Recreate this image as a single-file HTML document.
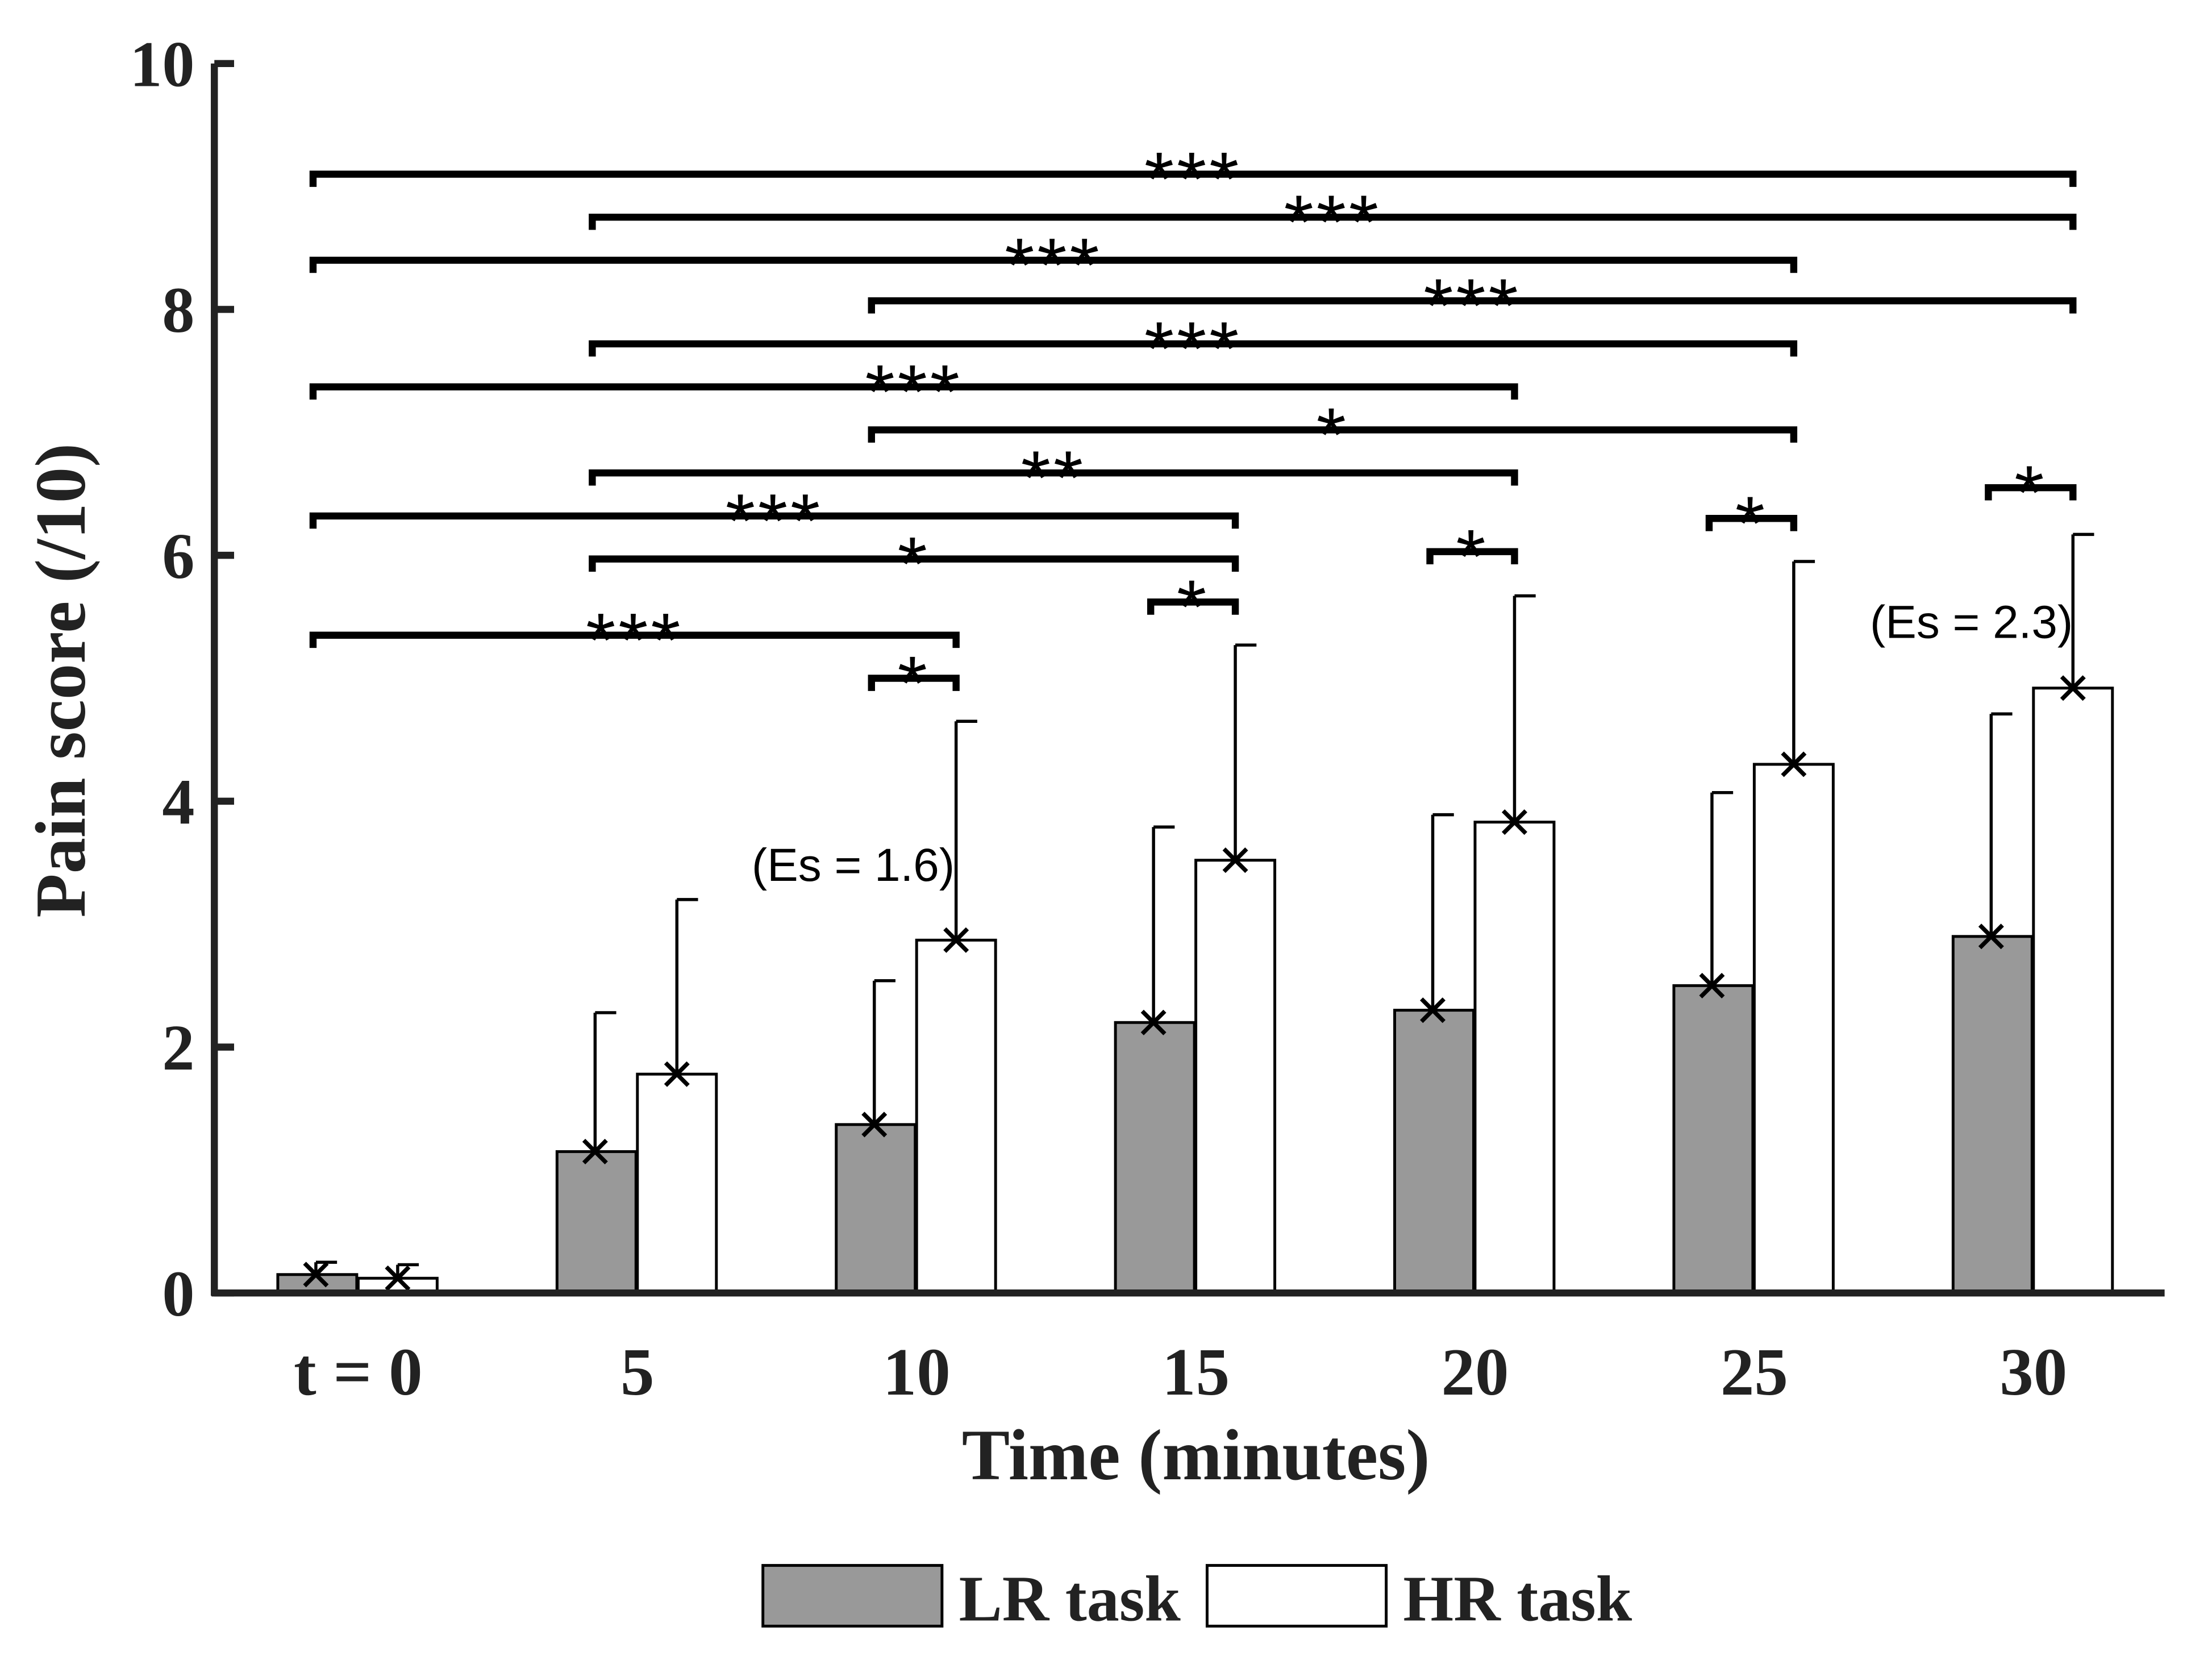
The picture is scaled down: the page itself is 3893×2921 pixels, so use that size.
<!DOCTYPE html>
<html><head><meta charset="utf-8"><style>
html,body{margin:0;padding:0;background:#fff;}
svg{display:block;}
</style></head><body>
<svg id="chart" width="3893" height="2921" viewBox="0 0 1568.6 1176" preserveAspectRatio="none" xmlns="http://www.w3.org/2000/svg">
<rect width="1600" height="1200" fill="#fff"/>
<g id="marks"></g>
<text x="605" y="624" text-anchor="middle" font-family="Liberation Sans, sans-serif" font-size="33">(Es = 1.6)</text>
<text x="1398" y="452" text-anchor="middle" font-family="Liberation Sans, sans-serif" font-size="33">(Es = 2.3)</text>
<text x="848" y="1048" text-anchor="middle" font-family="Liberation Serif, serif" font-weight="bold" font-size="51" fill="#222">Time (minutes)</text>
<text transform="translate(60,482) rotate(-90)" text-anchor="middle" font-family="Liberation Serif, serif" font-weight="bold" font-size="51" fill="#222">Pain score (/10)</text>
<g>
<rect x="541" y="1109" width="127" height="43" fill="#999" stroke="#000" stroke-width="2"/>
<text x="680" y="1148" font-family="Liberation Serif, serif" font-weight="bold" font-size="46" fill="#222">LR task</text>
<rect x="856" y="1109" width="127" height="43" fill="#fff" stroke="#000" stroke-width="2"/>
<text x="995" y="1148" font-family="Liberation Serif, serif" font-weight="bold" font-size="46" fill="#222">HR task</text>
</g>
</svg>
<script>
const categories = ["t = 0","5","10","15","20","25","30"];
const lrValues = [0.15,1.15,1.37,2.2,2.3,2.5,2.9];
const hrValues = [0.12,1.78,2.87,3.52,3.83,4.3,4.92];
const lrErrTop = [0.25,2.28,2.54,3.79,3.89,4.07,4.71];
const hrErrTop = [0.23,3.2,4.65,5.27,5.67,5.95,6.17];
const yTicks = [0,2,4,6,8,10];
// brackets: level, from group index, to group index, label
const brLevel = [9.1,8.75,8.4,8.07,7.72,7.37,7.02,6.67,6.32,5.97,5.35,5.0,5.62,6.03,6.3,6.55];
const brFrom = [0,1,0,2,1,0,2,1,0,1,0,2,3,4,5,6];
const brTo = [6,6,5,6,5,4,5,4,3,3,2,2,3,4,5,6];
const brLabel = ["***","***","***","***","***","***","*","**","***","*","***","*","*","*","*","*"];

const NS="http://www.w3.org/2000/svg";
const g=document.getElementById('marks');
const y=v=>916-v*87.1;
const xc=i=>254+i*198;
function mk(t,a){const e=document.createElementNS(NS,t);for(const k in a)e.setAttribute(k,a[k]);g.appendChild(e);return e;}

categories.forEach((c,i)=>{
  const cx=xc(i);
  let r=mk('rect',{x:cx-57,y:y(lrValues[i]),width:56,height:y(0)-y(lrValues[i]),fill:'#999',stroke:'#000','stroke-width':2});
  
  
  r=mk('rect',{x:cx,y:y(hrValues[i]),width:56,height:y(0)-y(hrValues[i]),fill:'#fff',stroke:'#000','stroke-width':2});
  
  
  [[cx-30,lrValues[i],lrErrTop[i],'lr'],[cx+28,hrValues[i],hrErrTop[i],'hr']].forEach(([x,v,t,s])=>{
    const e=mk('path',{d:`M${x},${y(v)}V${y(t)}M${x},${y(t)}H${x+15}`,stroke:'#000','stroke-width':2.2,fill:'none'});
    
    
    const m=mk('path',{d:`M${x-8},${y(v)-8}L${x+8},${y(v)+8}M${x-8},${y(v)+8}L${x+8},${y(v)-8}`,stroke:'#000','stroke-width':3});
    
    
  });
  const t=mk('text',{x:cx,y:988,'text-anchor':'middle','font-family':'Liberation Serif, serif','font-weight':'bold','font-size':48,fill:'#222'});
  t.textContent=c;
  
  
});

brLevel.forEach((lv,k)=>{
  const x1=xc(brFrom[k])-32, x2=xc(brTo[k])+28, yy=y(lv);
  const p=mk('path',{d:`M${x1},${yy+9}V${yy}H${x2}V${yy+9}`,stroke:'#000','stroke-width':5,fill:'none'});
  
  
  const t=mk('text',{x:(x1+x2)/2,y:yy+22,'text-anchor':'middle','font-family':'Liberation Sans, sans-serif','font-size':54,'letter-spacing':2});
  t.textContent=brLabel[k];
  
  
});

let ax=mk('path',{d:`M152,${y(10)}V918`,stroke:'#222','stroke-width':5});


ax=mk('path',{d:`M150,916H1535`,stroke:'#222','stroke-width':5});


yTicks.forEach(v=>{
  const tk=mk('path',{d:`M152,${y(v)}H166`,stroke:'#222','stroke-width':5});
  
  
  const t=mk('text',{x:138,y:y(v)+16,'text-anchor':'end','font-family':'Liberation Serif, serif','font-weight':'bold','font-size':46,fill:'#222'});
  t.textContent=v;
  
  
});
</script>
</body></html>
